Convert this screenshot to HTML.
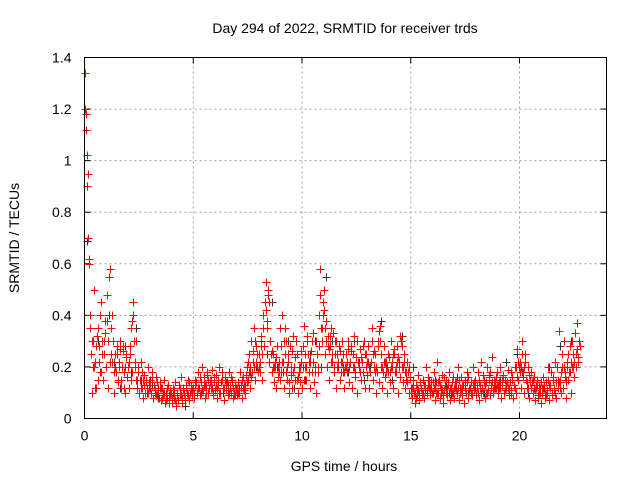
<!DOCTYPE html>
<html><head><meta charset="utf-8"><style>
html,body{margin:0;padding:0;background:#fff}
svg{display:block;font-family:"Liberation Sans",sans-serif}
</style></head><body>
<svg id="chart" width="640" height="480" viewBox="0 0 640 480">
<text x="345" y="33" font-size="14" text-anchor="middle">Day 294 of 2022, SRMTID for receiver trds</text>
<text x="344" y="471" font-size="14" text-anchor="middle">GPS time / hours</text>
<text transform="translate(19,238) rotate(-90)" font-size="14" text-anchor="middle">SRMTID / TECUs</text>
<g id="grid"></g>
<g id="ticks"></g>
<g id="black"></g>
<g id="red"></g>
<rect x="84.5" y="57.5" width="522" height="361" fill="none" stroke="#000"/>
</svg>
<script>
const xTicks=[0,5,10,15,20];
const yTicks=[0,0.2,0.4,0.6,0.8,1,1.2,1.4];
const yTickLabels=["0","0.2","0.4","0.6","0.8","1","1.2","1.4"];
const redStart=0, redStep=0.05;
const redValues=[
1.34,1.12,0.9,0.7,0.62,0.4,0.25,0.1,0.3,0.5,0.22,0.12,0.35,0.28,0.18,0.45,0.3,0.15,0.25,0.38,
0.2,0.48,0.12,0.58,0.35,0.22,0.3,0.1,0.25,0.18,0.28,0.15,0.22,0.3,0.12,0.26,0.18,0.1,0.24,0.16,
0.2,0.12,0.28,0.15,0.38,0.45,0.22,0.3,0.12,0.18,0.1,0.15,0.22,0.12,0.08,0.17,0.1,0.14,0.2,0.12,
0.15,0.1,0.18,0.08,0.13,0.11,0.16,0.09,0.12,0.14,0.07,0.12,0.09,0.15,0.06,0.1,0.08,0.13,0.07,0.11,
0.06,0.12,0.08,0.14,0.05,0.1,0.07,0.13,0.09,0.16,0.06,0.11,0.08,0.12,0.1,0.15,0.07,0.1,0.13,0.09,
0.12,0.08,0.15,0.1,0.18,0.12,0.09,0.14,0.2,0.11,0.16,0.08,0.13,0.17,0.1,0.15,0.12,0.19,0.09,0.14,
0.11,0.17,0.08,0.13,0.2,0.1,0.15,0.12,0.07,0.16,0.11,0.14,0.09,0.18,0.12,0.1,0.15,0.08,0.13,0.11,
0.09,0.14,0.1,0.18,0.12,0.08,0.16,0.11,0.13,0.2,0.15,0.25,0.12,0.3,0.18,0.22,0.35,0.15,0.28,0.2,
0.25,0.18,0.32,0.15,0.4,0.28,0.45,0.53,0.35,0.48,0.22,0.3,0.18,0.25,0.14,0.2,0.12,0.28,0.16,0.22,
0.35,0.18,0.4,0.12,0.25,0.3,0.15,0.22,0.1,0.28,0.17,0.12,0.32,0.2,0.15,0.25,0.1,0.18,0.14,0.22,
0.12,0.28,0.36,0.2,0.15,0.3,0.22,0.12,0.26,0.18,0.33,0.14,0.2,0.1,0.25,0.18,0.4,0.58,0.3,0.45,
0.5,0.25,0.38,0.2,0.32,0.15,0.28,0.35,0.22,0.18,0.3,0.12,0.25,0.2,0.28,0.15,0.22,0.3,0.18,0.12,
0.25,0.18,0.3,0.14,0.22,0.28,0.12,0.2,0.32,0.16,0.24,0.1,0.2,0.27,0.15,0.22,0.18,0.3,0.12,0.25,
0.17,0.28,0.12,0.22,0.35,0.15,0.2,0.25,0.1,0.18,0.3,0.14,0.36,0.2,0.12,0.28,0.16,0.22,0.1,0.18,
0.24,0.14,0.3,0.2,0.12,0.25,0.18,0.28,0.1,0.22,0.16,0.3,0.2,0.14,0.25,0.12,0.18,0.22,0.1,0.16,
0.12,0.08,0.15,0.1,0.06,0.13,0.09,0.17,0.07,0.12,0.1,0.15,0.08,0.13,0.2,0.1,0.16,0.12,0.09,0.14,
0.1,0.18,0.07,0.14,0.22,0.1,0.15,0.08,0.12,0.17,0.06,0.11,0.15,0.09,0.13,0.18,0.07,0.12,0.1,0.16,
0.08,0.14,0.11,0.2,0.07,0.12,0.16,0.09,0.13,0.06,0.15,0.1,0.18,0.08,0.12,0.14,0.09,0.2,0.11,0.15,
0.09,0.13,0.18,0.07,0.12,0.22,0.1,0.15,0.08,0.14,0.2,0.11,0.16,0.09,0.13,0.24,0.1,0.15,0.12,0.18,
0.1,0.14,0.2,0.08,0.13,0.17,0.1,0.15,0.12,0.19,0.09,0.14,0.11,0.16,0.08,0.13,0.2,0.1,0.27,0.15,
0.22,0.12,0.3,0.18,0.1,0.25,0.15,0.12,0.2,0.08,0.14,0.18,0.1,0.16,0.07,0.12,0.15,0.09,0.13,0.1,
0.06,0.12,0.16,0.08,0.14,0.1,0.2,0.07,0.13,0.18,0.09,0.15,0.11,0.22,0.08,0.12,0.34,0.15,0.1,0.25,
0.12,0.3,0.18,0.08,0.22,0.15,0.28,0.1,0.2,0.25,0.16,0.33,0.2,0.37,0.24];
const redBStart=0.025, redBStep=0.1;
const redBValues=[
1.2,1.02,0.6,0.3,0.2,0.28,0.15,0.4,0.25,0.33,
0.38,0.55,0.25,0.3,0.2,0.14,0.27,0.2,0.12,0.25,
0.22,0.35,0.4,0.2,0.15,0.1,0.18,0.13,0.15,0.1,
0.12,0.16,0.1,0.14,0.08,0.12,0.1,0.07,0.13,0.09,
0.08,0.11,0.06,0.13,0.09,0.12,0.07,0.1,0.14,0.11,
0.1,0.14,0.12,0.16,0.11,0.13,0.18,0.12,0.15,0.1,
0.13,0.15,0.1,0.18,0.12,0.14,0.1,0.16,0.12,0.09,
0.12,0.1,0.15,0.13,0.17,0.22,0.2,0.26,0.3,0.25,
0.2,0.28,0.35,0.42,0.5,0.3,0.26,0.2,0.24,0.18,
0.28,0.22,0.35,0.2,0.14,0.26,0.2,0.3,0.16,0.2,
0.2,0.25,0.32,0.18,0.26,0.22,0.3,0.2,0.48,0.35,
0.42,0.3,0.27,0.22,0.33,0.25,0.2,0.26,0.22,0.18,
0.2,0.27,0.22,0.25,0.18,0.3,0.2,0.24,0.28,0.2,
0.22,0.18,0.3,0.26,0.2,0.34,0.25,0.18,0.22,0.2,
0.18,0.22,0.27,0.2,0.24,0.32,0.2,0.18,0.14,0.2,
0.1,0.12,0.08,0.11,0.14,0.09,0.13,0.11,0.15,0.12,
0.14,0.12,0.1,0.13,0.11,0.16,0.1,0.14,0.12,0.1,
0.12,0.1,0.15,0.11,0.13,0.1,0.16,0.12,0.1,0.14,
0.12,0.15,0.1,0.17,0.13,0.1,0.18,0.14,0.12,0.16,
0.13,0.12,0.16,0.11,0.14,0.12,0.18,0.13,0.2,0.22,
0.18,0.25,0.2,0.14,0.17,0.12,0.15,0.11,0.13,0.12,
0.1,0.13,0.09,0.15,0.12,0.16,0.1,0.2,0.14,0.18,
0.2,0.14,0.25,0.18,0.3,0.22,0.27,0.3];
const redCStart=0.075, redCStep=0.1;
const redCValues=[
1.18,0.95,0.35,0.2,0.12,0.32,0.22,0.18,0.3,0.2,
0.3,0.22,0.4,0.18,0.25,0.2,0.15,0.28,0.2,0.16,
0.25,0.18,0.3,0.15,0.2,0.12,0.15,0.1,0.12,0.14,
0.1,0.13,0.09,0.11,0.12,0.08,0.1,0.12,0.09,0.1,
0.1,0.07,0.09,0.12,0.08,0.1,0.13,0.09,0.11,0.12,
0.13,0.1,0.12,0.14,0.13,0.1,0.15,0.14,0.12,0.16,
0.12,0.1,0.14,0.12,0.15,0.11,0.13,0.14,0.1,0.12,
0.1,0.13,0.12,0.1,0.14,0.18,0.16,0.2,0.22,0.18,
0.22,0.25,0.28,0.38,0.45,0.25,0.2,0.22,0.2,0.15,
0.22,0.3,0.18,0.25,0.2,0.18,0.24,0.15,0.2,0.26,
0.15,0.2,0.25,0.22,0.3,0.18,0.25,0.28,0.35,0.4,
0.35,0.28,0.32,0.25,0.2,0.3,0.22,0.18,0.25,0.2,
0.22,0.2,0.26,0.2,0.24,0.22,0.18,0.22,0.25,0.22,
0.2,0.22,0.25,0.18,0.28,0.3,0.2,0.22,0.18,0.25,
0.2,0.25,0.18,0.22,0.2,0.28,0.22,0.15,0.18,0.16,
0.12,0.1,0.12,0.09,0.12,0.1,0.11,0.13,0.12,0.1,
0.12,0.1,0.14,0.12,0.09,0.13,0.12,0.1,0.14,0.12,
0.14,0.12,0.1,0.13,0.12,0.14,0.11,0.1,0.13,0.12,
0.1,0.13,0.12,0.14,0.1,0.15,0.12,0.11,0.14,0.13,
0.12,0.15,0.1,0.13,0.12,0.14,0.15,0.12,0.16,0.2,
0.2,0.16,0.22,0.12,0.15,0.14,0.12,0.13,0.1,0.14,
0.12,0.1,0.11,0.13,0.1,0.12,0.14,0.15,0.12,0.2,
0.16,0.2,0.18,0.22,0.2,0.25,0.22,0.28];
const blackStart=0.12, blackStep=0.25;
const blackValues=[
0.69,0.2,0.3,0.15,0.4,0.22,0.12,0.28,0.18,0.35,0.15,0.1,0.13,0.08,0.1,0.06,0.09,0.12,0.05,0.1,
0.14,0.1,0.17,0.12,0.15,0.1,0.13,0.09,0.12,0.1,0.18,0.2,0.3,0.25,0.45,0.2,0.18,0.3,0.12,0.2,
0.15,0.25,0.3,0.2,0.55,0.3,0.25,0.2,0.18,0.3,0.22,0.15,0.2,0.25,0.38,0.2,0.15,0.22,0.32,0.18,
0.2,0.1,0.08,0.12,0.15,0.1,0.13,0.09,0.16,0.12,0.1,0.2,0.14,0.1,0.17,0.12,0.15,0.22,0.1,0.25,
0.18,0.1,0.15,0.08,0.12,0.2,0.1,0.28,0.15,0.3];
const X0=84.5,XW=522,XMAX=24,Y0=418.5,YH=361,YMAX=1.4;
const sx=v=>X0+v/XMAX*XW, sy=v=>Y0-v/YMAX*YH;
const NS="http://www.w3.org/2000/svg";
const grid=document.getElementById('grid'), ticks=document.getElementById('ticks');
function mk(tag,attrs,parent){const e=document.createElementNS(NS,tag);for(const k in attrs)e.setAttribute(k,attrs[k]);parent.appendChild(e);return e;}
xTicks.forEach(v=>{
 const x=sx(v);
 if(v>0){const g=mk('line',{x1:x,x2:x,y1:Y0,y2:sy(YMAX),stroke:'#a0a0a0','stroke-dasharray':'2,3'},grid);
 
 }
 const t=mk('line',{x1:x,x2:x,y1:Y0,y2:Y0-6,stroke:'#000'},ticks);
 
 
 const t2=mk('line',{x1:x,x2:x,y1:sy(YMAX),y2:sy(YMAX)+6,stroke:'#000'},ticks);
 
 
 const l=mk('text',{x:x,y:Y0+22,'font-size':14,'text-anchor':'middle'},ticks);
 l.textContent=String(v);
 
 
});
yTicks.forEach((v,i)=>{
 const y=sy(v);
 if(v>0&&v<YMAX){const g=mk('line',{x1:X0,x2:sx(XMAX),y1:y,y2:y,stroke:'#a0a0a0','stroke-dasharray':'2,3'},grid);
 
 }
 const t=mk('line',{x1:X0,x2:X0+6,y1:y,y2:y,stroke:'#000'},ticks);
 
 
 const t2=mk('line',{x1:sx(XMAX),x2:sx(XMAX)-6,y1:y,y2:y,stroke:'#000'},ticks);
 
 
 const l=mk('text',{x:X0-13,y:y+5,'font-size':14,'text-anchor':'end'},ticks);
 l.textContent=yTickLabels[i];
 
 
});
function plus(parent,t,v,color,name){
 const x=Math.round(sx(t))+0.5,y=Math.round(sy(v))+0.5;
 const p=mk('path',{d:`M${x-4} ${y}H${x+4}M${x} ${y-4}V${y+4}`,stroke:color,'stroke-width':1,fill:'none'},parent);
 
 
}
const bg=document.getElementById('black'), rg=document.getElementById('red');
blackValues.forEach((v,i)=>plus(bg,blackStart+i*blackStep,v,'#333','black-point'));
redValues.forEach((v,i)=>plus(rg,redStart+i*redStep,v,'#ff0000','red-point'));
redBValues.forEach((v,i)=>plus(rg,redBStart+i*redBStep,v,'#ff0000','red-point'));
redCValues.forEach((v,i)=>plus(rg,redCStart+i*redCStep,v,'#ff0000','red-point'));
</script>
</body></html>
